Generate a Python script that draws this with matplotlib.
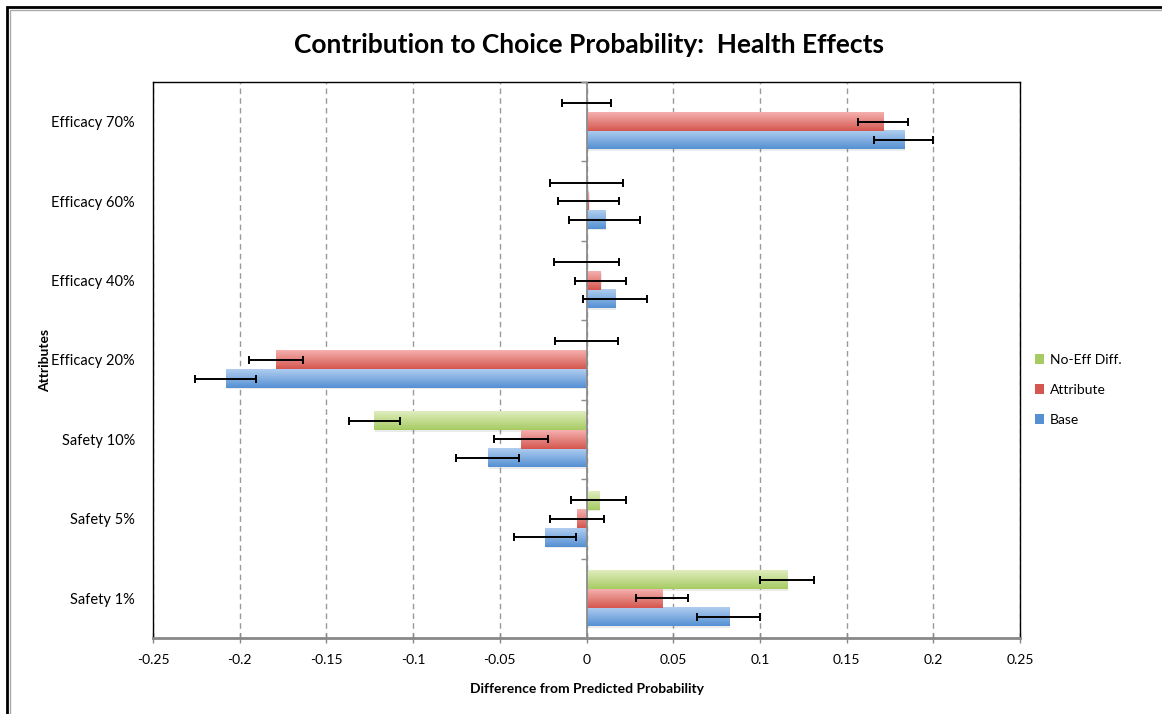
import numpy as np
import matplotlib
matplotlib.use('Agg')
import matplotlib.pyplot as plt
from matplotlib.colors import LinearSegmentedColormap
from matplotlib.patches import Patch, Rectangle

plt.rcParams['font.family'] = ['Lato', 'DejaVu Sans']

# Data (bottom to top)
categories = ['Safety 1%', 'Safety 5%', 'Safety 10%', 'Efficacy 20%',
              'Efficacy 40%', 'Efficacy 60%', 'Efficacy 70%']
base = [0.082, -0.024, -0.057, -0.208, 0.0165, 0.0105, 0.183]
base_err = [0.018, 0.018, 0.018, 0.0175, 0.0185, 0.0205, 0.017]
attribute = [0.0435, -0.0055, -0.038, -0.179, 0.008, 0.001, 0.171]
attribute_err = [0.015, 0.0157, 0.0156, 0.0157, 0.0148, 0.0175, 0.0145]
no_eff = [0.1155, 0.007, -0.1225, 0.0, 0.0, 0.0, 0.0]
no_eff_err = [0.0156, 0.016, 0.0147, 0.018, 0.0188, 0.021, 0.014]
xticks = [-0.25, -0.2, -0.15, -0.1, -0.05, 0, 0.05, 0.1, 0.15, 0.2, 0.25]
xtick_labels = ['-0.25', '-0.2', '-0.15', '-0.1', '-0.05', '0', '0.05', '0.1', '0.15', '0.2', '0.25']

# (top colour, bottom colour) gradients, Excel style
styles = {
    'Base': ('#B0CDF0', '#5590D3'),
    'Attribute': ('#F5B0AE', '#D4574F'),
    'No-Eff Diff.': ('#E0EDBE', '#A6CB62'),
}

fig = plt.figure(figsize=(11.62, 7.14), dpi=100)
ax = fig.add_axes([153 / 1162, 1 - 638 / 714, 867 / 1162, 556 / 714])

y = np.arange(len(categories))
h = 0.233
series = [('Base', base, base_err, -h),
          ('Attribute', attribute, attribute_err, 0.0),
          ('No-Eff Diff.', no_eff, no_eff_err, h)]

for name, vals, errs, off in series:
    top, bot = styles[name]
    cmap = LinearSegmentedColormap.from_list(name, [bot, top])
    bars = ax.barh(y + off, vals, height=h, color=top, edgecolor='none', zorder=2)
    grad = np.linspace(0, 1, 64).reshape(-1, 1)
    for b in bars:
        x0, y0 = b.get_x(), b.get_y()
        w, hh = b.get_width(), b.get_height()
        if w == 0:
            continue
        # faint shadow
        ax.add_patch(Rectangle((x0 + 0.0008, y0 - 0.02), w, hh, color='#000000',
                               alpha=0.08, lw=0, zorder=1.9))
        ax.imshow(grad, extent=[x0, x0 + w, y0, y0 + hh], origin='lower',
                  aspect='auto', cmap=cmap, zorder=2.1, interpolation='bilinear')
    ax.errorbar(vals, y + off, xerr=errs, fmt='none', ecolor='black',
                elinewidth=1.4, capsize=3.2, capthick=1.4, zorder=4)

# vertical axis line at zero with small category ticks
ax.axvline(0, color='#8c8c8c', lw=1.3, zorder=3)
bounds = np.arange(len(categories) + 1) - 0.5
ax.plot([0] * len(bounds), bounds, linestyle='none', marker=0, markersize=4,
        color='#8c8c8c', mew=1.0, zorder=3, clip_on=False)

ax.set_xlim(-0.25, 0.25)
ax.set_ylim(-0.5, len(categories) - 0.5)
ax.set_xticks(xticks)
ax.set_xticklabels(xtick_labels, fontsize=10)
ax.set_yticks(y)
ax.set_yticklabels(categories, fontsize=10.5)
ax.tick_params(axis='y', length=0, pad=13)
ax.tick_params(axis='x', direction='inout', length=7, width=1, color='#888888', pad=8)
ax.xaxis.grid(True, linestyle=(0, (4, 3)), color='#999999', lw=1.0, zorder=0)
ax.set_axisbelow(True)
for s in ax.spines.values():
    s.set_color('black')
    s.set_linewidth(1.0)
ax.spines['bottom'].set_color('#888888')
ax.spines['bottom'].set_linewidth(2)

ax.set_xlabel('Difference from Predicted Probability', fontsize=10, fontweight='bold',
              labelpad=12)
fig.text(45 / 1162, 1 - 360 / 714, 'Attributes', rotation=90, fontsize=10,
         fontweight='bold', ha='center', va='center')
fig.text(589 / 1162, 1 - 45 / 714, 'Contribution to Choice Probability:  Health Effects',
         fontsize=19, fontweight='bold', ha='center', va='center')

handles = [Patch(facecolor=styles[n][1], edgecolor='none') for n in ['No-Eff Diff.', 'Attribute', 'Base']]
fig.legend(handles, ['No-Eff Diff.', 'Attribute', 'Base'], loc='center left',
           bbox_to_anchor=(1022 / 1162, 1 - 390 / 714), frameon=False, fontsize=10,
           handlelength=0.7, handleheight=0.7, labelspacing=1.3, handletextpad=0.4)

# chart border
fig.patches.append(Rectangle((7 / 1162, -0.05), 1.1, 1 - 7 / 714 + 0.05,
                             transform=fig.transFigure, fill=False, edgecolor='black', lw=2))
fig.patches.append(Rectangle((10 / 1162, -0.05), 1.1, 1 - 10 / 714 + 0.05,
                             transform=fig.transFigure, fill=False, edgecolor='#aaaaaa', lw=1))

fig.savefig('out.png', dpi=100)
